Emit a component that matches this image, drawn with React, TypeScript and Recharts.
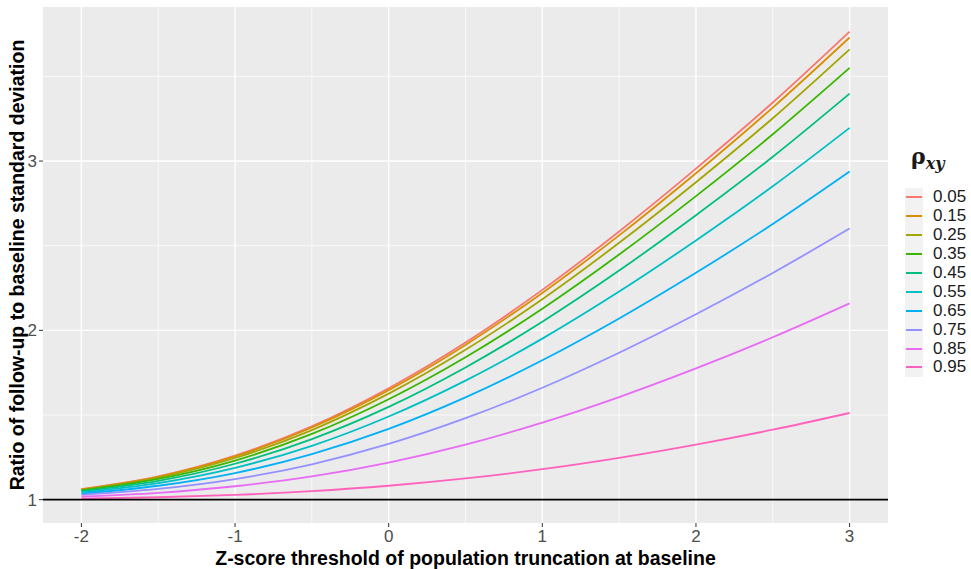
import { LineChart, Line, XAxis, YAxis, CartesianGrid, ReferenceLine } from 'recharts';

// z-score thresholds (x axis)
const THRESHOLDS = [-2, -1.5, -1, -0.5, 0, 0.5, 1, 1.5, 2, 2.5, 3];

// rho_xy levels, legend order
const RHO_LEVELS = ['0.05', '0.15', '0.25', '0.35', '0.45', '0.55', '0.65', '0.75', '0.85', '0.95'];

// ratio of follow-up to baseline SD, one array per rho
const RATIO_005 = [1.062, 1.137, 1.260, 1.433, 1.658, 1.928, 2.239, 2.584, 2.955, 3.346, 3.765];
const RATIO_015 = [1.061, 1.135, 1.255, 1.426, 1.647, 1.914, 2.221, 2.561, 2.928, 3.316, 3.730];
const RATIO_025 = [1.058, 1.130, 1.246, 1.411, 1.626, 1.885, 2.184, 2.517, 2.875, 3.253, 3.660];
const RATIO_035 = [1.055, 1.122, 1.231, 1.388, 1.593, 1.841, 2.128, 2.448, 2.793, 3.158, 3.550];
const RATIO_045 = [1.050, 1.111, 1.212, 1.358, 1.548, 1.781, 2.051, 2.353, 2.680, 3.025, 3.398];
const RATIO_055 = [1.044, 1.098, 1.188, 1.318, 1.491, 1.703, 1.951, 2.229, 2.531, 2.851, 3.196];
const RATIO_065 = [1.036, 1.082, 1.157, 1.269, 1.418, 1.604, 1.823, 2.070, 2.340, 2.628, 2.938];
const RATIO_075 = [1.028, 1.063, 1.121, 1.209, 1.329, 1.481, 1.661, 1.868, 2.095, 2.339, 2.602];
const RATIO_085 = [1.018, 1.040, 1.079, 1.137, 1.219, 1.325, 1.455, 1.606, 1.775, 1.959, 2.159];
const RATIO_095 = [1.006, 1.014, 1.028, 1.050, 1.082, 1.125, 1.180, 1.247, 1.325, 1.413, 1.512];

const SERIES = [
  RATIO_005, RATIO_015, RATIO_025, RATIO_035, RATIO_045,
  RATIO_055, RATIO_065, RATIO_075, RATIO_085, RATIO_095,
];

// ggplot default hue palette for 10 groups
const COLORS = [
  '#F8766D', '#D89000', '#A3A500', '#39B600', '#00BF7D',
  '#00BFC4', '#00B0F6', '#9590FF', '#E76BF3', '#FF62BC',
];

const X_TICKS = [-2, -1, 0, 1, 2, 3];
const X_MINOR = [-1.5, -0.5, 0.5, 1.5, 2.5];
const Y_TICKS = [1, 2, 3];
const Y_MINOR = [1.5, 2.5, 3.5];

const data = THRESHOLDS.map((z, i) => {
  const row: Record<string, number> = { z };
  RHO_LEVELS.forEach((rho, s) => {
    row[rho] = SERIES[s][i];
  });
  return row;
});

const FONT = '"Liberation Sans", Arial, sans-serif';

function RhoLegend() {
  return (
    <div
      style={{
        position: 'absolute',
        left: 905,
        top: 143,
        width: 66,
        fontFamily: FONT,
        color: '#1a1a1a',
      }}
    >
      <div
        style={{
          fontFamily: '"DejaVu Serif", serif',
          fontWeight: 'bold',
          fontSize: 22,
          height: 45,
          marginLeft: 6,
        }}
      >
        ρ<sub style={{ fontStyle: 'italic', fontSize: 16 }}>xy</sub>
      </div>
      {RHO_LEVELS.map((rho, i) => (
        <div key={rho} style={{ display: 'flex', alignItems: 'center', height: 18.9 }}>
          <div
            style={{
              width: 18,
              height: 18.9,
              background: '#F2F2F2',
              display: 'flex',
              alignItems: 'center',
              justifyContent: 'center',
            }}
          >
            <div style={{ width: 16, height: 2, background: COLORS[i] }} />
          </div>
          <span style={{ fontSize: 17, marginLeft: 10, lineHeight: '18px' }}>{rho}</span>
        </div>
      ))}
    </div>
  );
}

export default function App() {
  return (
    <div style={{ position: 'relative', width: 971, height: 569, background: '#fff' }}>
      <style>{'body{margin:0}'}</style>
      <LineChart
        width={971}
        height={569}
        data={data}
        margin={{ top: 7, right: 83, left: 0, bottom: 0 }}
      >
        <CartesianGrid
          fill="#EBEBEB"
          stroke="#FFFFFF"
          strokeWidth={0.7}
          horizontalValues={Y_MINOR}
          verticalValues={X_MINOR}
        />
        <CartesianGrid
          stroke="#FFFFFF"
          strokeWidth={1.4}
          horizontalValues={Y_TICKS}
          verticalValues={X_TICKS}
        />
        <XAxis
          dataKey="z"
          type="number"
          domain={[-2.25, 3.25]}
          ticks={X_TICKS}
          allowDataOverflow
          height={46}
          axisLine={false}
          tickLine={{ stroke: '#333333' }}
          tickSize={4}
          tickMargin={3}
          tick={{ fontSize: 17, fill: '#4D4D4D', fontFamily: FONT }}
          label={({ viewBox }: any) => (
            <text
              x={viewBox.x + viewBox.width / 2}
              y={558}
              textAnchor="middle"
              dominantBaseline="central"
              fontFamily={FONT}
              fontWeight="bold"
              fontSize={19.5}
              fill="#000"
            >
              Z-score threshold of population truncation at baseline
            </text>
          )}
        />
        <YAxis
          type="number"
          domain={[0.862, 3.91]}
          ticks={Y_TICKS}
          allowDataOverflow
          width={43}
          axisLine={false}
          tickLine={{ stroke: '#333333' }}
          tickSize={4}
          tickMargin={2}
          tick={{ fontSize: 17, fill: '#4D4D4D', fontFamily: FONT }}
          label={({ viewBox }: any) => (
            <text
              x={17}
              y={viewBox.y + viewBox.height / 2}
              textAnchor="middle"
              dominantBaseline="central"
              transform={`rotate(-90, 17, ${viewBox.y + viewBox.height / 2})`}
              fontFamily={FONT}
              fontWeight="bold"
              fontSize={19.5}
              fill="#000"
            >
              Ratio of follow-up to baseline standard deviation
            </text>
          )}
        />
        {RHO_LEVELS.map((rho, i) => (
          <Line
            key={rho}
            type="monotone"
            dataKey={rho}
            stroke={COLORS[i]}
            strokeWidth={1.8}
            dot={false}
            isAnimationActive={false}
          />
        ))}
        <ReferenceLine y={1} stroke="#000000" strokeWidth={1.6} />
      </LineChart>
      <RhoLegend />
    </div>
  );
}
